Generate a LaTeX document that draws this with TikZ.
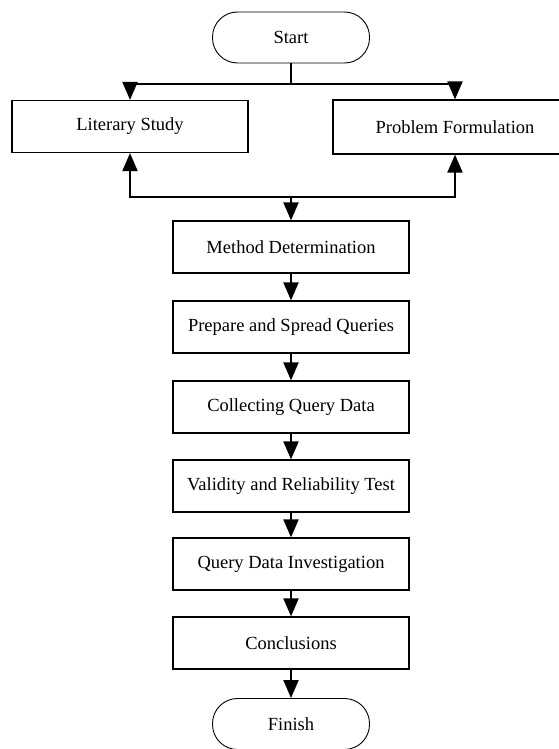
\documentclass[tikz,border=0pt]{standalone}
\usepackage{fontspec}
\setmainfont{Liberation Serif}
\usetikzlibrary{arrows.meta,shapes.misc}
\begin{document}
\begin{tikzpicture}[x=1pt,y=-1pt,
  box/.style={draw,line width=1.2pt,minimum width=236pt,minimum height=52pt,inner sep=0pt,font=\fontsize{18.5}{20}\selectfont},
  term/.style={draw,line width=0.9pt,rounded corners=25pt,minimum width=157pt,minimum height=51pt,inner sep=0pt,font=\fontsize{18.5}{20}\selectfont},
  conn/.style={line width=2pt,-{Triangle[length=18pt,width=15pt]}},
  plain/.style={line width=2pt}]
\useasboundingbox (0,0) rectangle (558,749);
\node[term] (start) at (291,37.5) {Start};
\node[box] (lit) at (130,126.5) {Literary Study};
\node[box,minimum width=244pt,minimum height=54pt] (prob) at (455,127) {Problem Formulation};
\node[box] (method) at (291,247) {Method Determination};
\node[box] (prepare) at (291,327) {Prepare and Spread Queries};
\node[box] (collect) at (291,407) {Collecting Query Data};
\node[box] (valid) at (291,486) {Validity and Reliability Test};
\node[box] (query) at (291,564) {Query Data Investigation};
\node[box] (concl) at (291,643) {Conclusions};
\node[term] (finish) at (291,724) {Finish};
\coordinate (j1) at (291,84);
\coordinate (j2) at (291,197);
\draw[plain] (start.south) -- (j1);
\draw[conn] (j1) -| (lit.north);
\draw[conn] (j1) -| (prob.north);
\draw[conn] (j2) -| (lit.south);
\draw[conn] (j2) -| (prob.south);
\draw[conn] (j2) -- (method.north);
\draw[conn] (method) -- (prepare);
\draw[conn] (prepare) -- (collect);
\draw[conn] (collect) -- (valid);
\draw[conn] (valid) -- (query);
\draw[conn] (query) -- (concl);
\draw[conn] (concl) -- (finish);
\end{tikzpicture}
\end{document}
